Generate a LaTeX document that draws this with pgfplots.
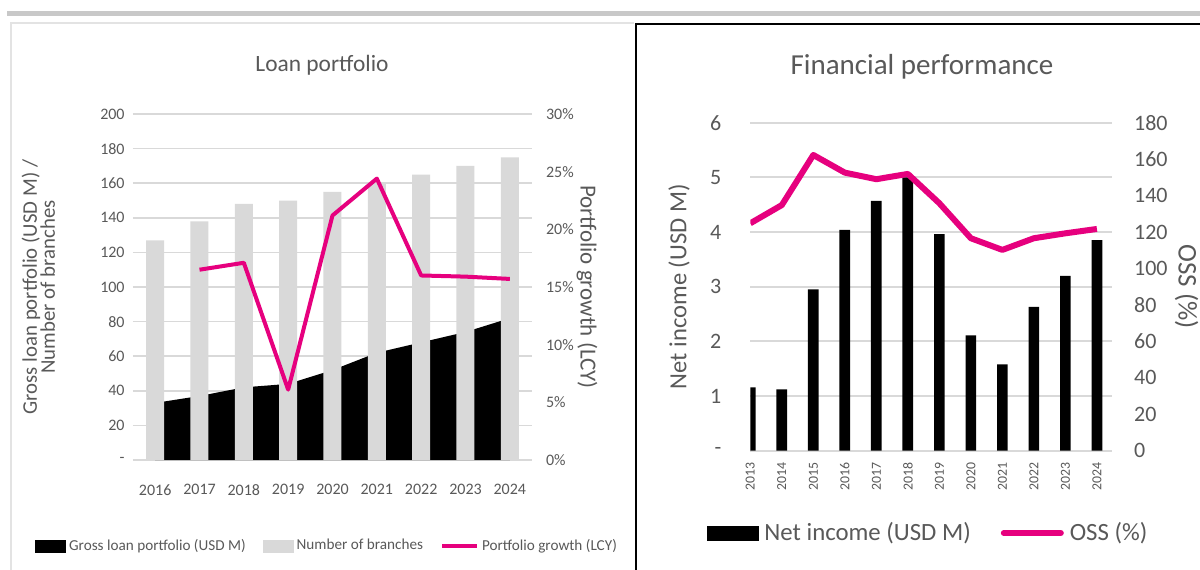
\documentclass[border=0pt]{standalone}
\usepackage{fontspec}
\setmainfont{Carlito}
\usepackage{pgfplots}
\pgfplotsset{compat=1.18}
\pgfplotsset{/pgf/number format/assume math mode=true}
\definecolor{txtgray}{HTML}{595959}
\definecolor{gridgray}{HTML}{D9D9D9}
\definecolor{bargray}{HTML}{D9D9D9}
\definecolor{oss}{HTML}{E6007E}
\definecolor{topbar}{HTML}{C8C8C8}
\definecolor{framegray}{HTML}{E3E3E3}

\pgfplotstableread{
x y
0 33
1 37
2 42
3 44
4 52
5 62
6 68
7 74
8 82
}\loantable
\pgfplotstableread{
x y
0 127
1 138
2 148
3 150
4 155
5 160
6 165
7 170
8 175
}\branchtable
\pgfplotstableread{
x y
1 16.5
2 17.1
3 6.1
4 21.2
5 24.4
6 16.0
7 15.9
8 15.7
}\growthtable
\pgfplotstableread{
x y
0 1.16
1 1.12
2 2.95
3 4.04
4 4.57
5 5.00
6 3.96
7 2.11
8 1.58
9 2.63
10 3.20
11 3.85
}\incometable
\pgfplotstableread{
x y
0 124.8
1 134.8
2 162.3
3 152.6
4 149.0
5 151.9
6 135.8
7 116.6
8 110.2
9 116.6
10 119.3
11 121.7
}\osstable

\begin{document}
\begin{tikzpicture}
\path[use as bounding box] (0pt,0pt) rectangle (600pt,-284.5pt);
\fill[white] (0pt,0pt) rectangle (600pt,-284.5pt);
\fill[topbar] (3.5pt,-5.5pt) rectangle (600pt,-8pt);
\draw[framegray, line width=1pt] (5.5pt,-290pt) -- (5.5pt,-11.5pt) -- (317pt,-11.5pt);
\draw[black, line width=1pt] (318pt,-290pt) -- (318pt,-11.75pt) -- (605pt,-11.75pt);

\node[text=txtgray, font=\fontsize{11.7}{14}\selectfont] at (161pt,-32.5pt) {Loan portfolio};
\node[text=txtgray, font=\fontsize{14.5}{17}\selectfont] at (461pt,-33.5pt) {Financial performance};

% ---------- Left chart ----------
\begin{axis}[
  at={(66.5pt,-230pt)}, anchor=south west, scale only axis,
  width=199.5pt, height=173pt,
  xmin=-0.5, xmax=8.5, ymin=0, ymax=200,
  xtick={0,...,8}, xticklabels={2016,2017,2018,2019,2020,2021,2022,2023,2024},
  ytick={0,20,...,200}, yticklabels={-,20,40,60,80,100,120,140,160,180,200},
  axis line style={draw=none}, major tick length=0pt,
  ymajorgrids, grid style={gridgray, line width=0.75pt},
  tick label style={font=\fontsize{8}{9.6}\selectfont, text=txtgray, inner sep=0pt},
  yticklabel shift=4pt, xticklabel shift=12pt,
  ylabel={Gross loan portfolio (USD M) /\\Number of branches},
  ylabel style={at={(axis description cs:-0.237,0.5)}, anchor=center, align=center,
    font=\fontsize{10.4}{9}\selectfont, text=txtgray},
]
\addplot[fill=black, draw=none] table[x=x,y=y] {\loantable} \closedcycle;
\addplot[ybar, bar width=9pt, bar shift=0pt, fill=bargray, draw=none] table[x=x,y=y] {\branchtable};
\end{axis}

\begin{axis}[
  at={(66.5pt,-230pt)}, anchor=south west, scale only axis,
  width=199.5pt, height=173pt,
  xmin=-0.5, xmax=8.5, ymin=0, ymax=30,
  axis x line=none, axis y line*=right,
  axis line style={draw=none}, major tick length=0pt,
  ytick={0,5,...,30}, yticklabels={0\%,5\%,10\%,15\%,20\%,25\%,30\%},
  tick label style={font=\fontsize{8}{9.6}\selectfont, text=txtgray, inner sep=0pt},
  yticklabel shift=6.85pt,
  ylabel={Portfolio growth (LCY)},
  ylabel style={at={(axis description cs:1.138,0.5)}, anchor=center, rotate=180,
    font=\fontsize{11.5}{13}\selectfont, text=txtgray},
  legend columns=3,
  legend style={at={(axis description cs:0.484,-0.2486)}, anchor=center, draw=none, fill=none,
    font=\fontsize{7.6}{9}\selectfont, text=txtgray, nodes={inner sep=0pt},
    /tikz/every odd column/.append style={column sep=1.5pt},
    /tikz/every even column/.append style={column sep=8.5pt}},
]
\addlegendimage{legend image code/.code={\fill[black] (0pt,-3pt) rectangle (15pt,3pt);}}
\addlegendentry{Gross loan portfolio (USD M)}
\addlegendimage{legend image code/.code={\fill[bargray] (0pt,-3pt) rectangle (15pt,3pt);}}
\addlegendentry{Number of branches}
\addplot[oss, line width=2pt, line join=round,
  legend image code/.code={\draw[oss, line width=2pt] (0pt,0pt) -- (17.5pt,0pt);}]
  table[x=x,y=y] {\growthtable};
\addlegendentry{Portfolio growth (LCY)}
\end{axis}

% ---------- Right chart ----------
\begin{axis}[
  at={(375.15pt,-225.35pt)}, anchor=south west, scale only axis,
  width=180.7pt, height=164pt,
  xmin=0, xmax=11.47, ymin=0, ymax=6,
  xtick={0,...,11}, xticklabels={2013,2014,2015,2016,2017,2018,2019,2020,2021,2022,2023,2024},
  ytick={0,...,6}, yticklabels={-,1,2,3,4,5,6},
  axis line style={draw=none}, major tick length=0pt,
  ymajorgrids, grid style={gridgray, line width=1pt},
  tick label style={text=txtgray, inner sep=0pt},
  yticklabel style={font=\fontsize{11}{13}\selectfont},
  xticklabel style={font=\fontsize{6.9}{8}\selectfont, rotate=90, anchor=east},
  yticklabel shift=14.3pt, xticklabel shift=5.5pt,
  ylabel={Net income (USD M)},
  ylabel style={at={(axis description cs:-0.197,0.5)}, anchor=center,
    font=\fontsize{12.3}{14}\selectfont, text=txtgray},
]
\addplot[ybar, bar width=5.35pt, bar shift=0pt, fill=black, draw=none] table[x=x,y=y] {\incometable};
\end{axis}

\begin{axis}[
  at={(375.15pt,-225.35pt)}, anchor=south west, scale only axis,
  width=180.7pt, height=164pt,
  xmin=0, xmax=11.47, ymin=0, ymax=180,
  axis x line=none, axis y line*=right,
  axis line style={draw=none}, major tick length=0pt,
  ytick={0,20,...,180}, yticklabels={0,20,40,60,80,100,120,140,160,180},
  tick label style={text=txtgray, inner sep=0pt, font=\fontsize{11}{13}\selectfont},
  yticklabel shift=11pt,
  ylabel={OSS (\%)},
  ylabel style={at={(axis description cs:1.2075,0.5)}, anchor=center, rotate=180,
    font=\fontsize{13.5}{16}\selectfont, text=txtgray},
  legend columns=2,
  legend style={at={(axis description cs:0.489,-0.251)}, anchor=center, draw=none, fill=none,
    font=\fontsize{12.4}{14}\selectfont, text=txtgray, nodes={inner sep=0pt},
    /tikz/every odd column/.append style={column sep=3pt},
    /tikz/every even column/.append style={column sep=15pt}},
]
\addlegendimage{legend image code/.code={\fill[black] (0pt,-3.5pt) rectangle (25.5pt,3.5pt);}}
\addlegendentry{Net income (USD M)}
\addplot[oss, line width=3pt, line join=round,
  legend image code/.code={\draw[oss, line width=3pt, line cap=round] (0pt,0pt) -- (28.5pt,0pt);}]
  table[x=x,y=y] {\osstable};
\addlegendentry{OSS (\%)}
\end{axis}
\end{tikzpicture}
\end{document}
